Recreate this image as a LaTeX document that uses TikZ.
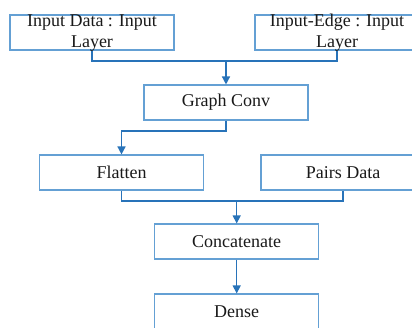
\documentclass[tikz,border=0pt]{standalone}
\usepackage{fontspec}
\setmainfont{Liberation Serif}
\usetikzlibrary{arrows.meta}
\definecolor{boxblue}{RGB}{100,160,212}
\definecolor{linkblue}{RGB}{40,115,185}
\definecolor{txt}{RGB}{25,25,25}
\begin{document}
\begin{tikzpicture}[x=1pt,y=-1pt,
  box/.style={draw=boxblue,line width=1.1pt,minimum width=164pt,minimum height=35pt,inner sep=0pt,
    text=txt,font=\fontsize{18}{21}\selectfont},
  lbl/.style={align=center,inner sep=0pt,text=txt,font=\fontsize{18}{21}\selectfont},
  conn/.style={draw=linkblue,line width=1.4pt},
  arr/.style={conn,-{Triangle[width=8pt,length=8pt]}}]
\useasboundingbox (0,0) rectangle (412,327);
\node[box] (in1) at (92,32.5) {};
\node[lbl] (in1t) at (92,33) {Input Data : Input\\Layer};
\node[box] (in2) at (337,32.5) {};
\node[lbl] (in2t) at (337,33) {Input-Edge : Input\\Layer};
\node[box] (gc) at (226,102.5) {Graph Conv};
\node[box] (fl) at (121.5,172.5) {Flatten};
\node[box] (pd) at (343,172.5) {Pairs Data};
\node[box] (cc) at (236.7,241.5) {Concatenate};
\node[box] (de) at (236.7,311.5) {Dense};
\coordinate (j1) at (226,61);
\coordinate (j2) at (226,131);
\coordinate (j3) at (236.7,201);
\draw[conn] (in1.south) |- (j1) -| (in2.south);
\draw[arr] (j1) -- (gc.north);
\draw[arr] (gc.south) -- (j2) -| (fl.north);
\draw[conn] (fl.south) |- (j3) -| (pd.south);
\draw[arr] (j3) -- (cc.north);
\draw[arr] (cc.south) -- (de.north);
\end{tikzpicture}
\end{document}
